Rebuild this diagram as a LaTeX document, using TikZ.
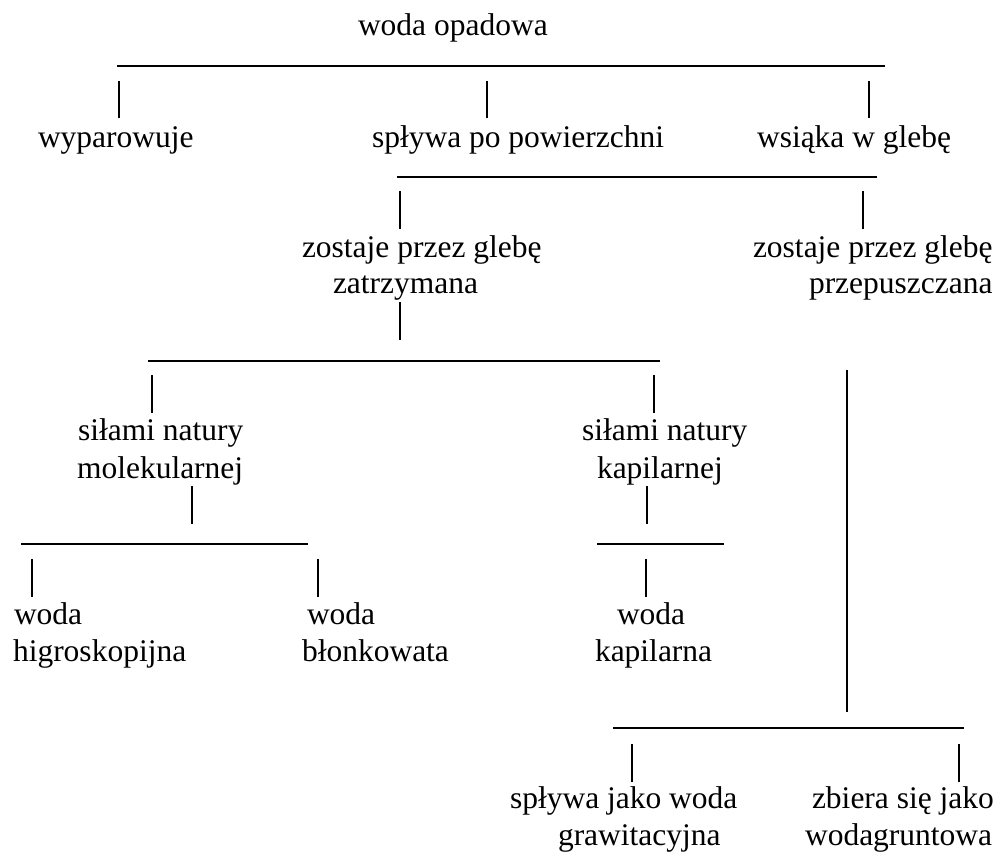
\documentclass[tikz,border=0pt]{standalone}
\usepackage{fontspec}
\setmainfont{Liberation Serif}
\begin{document}
\begin{tikzpicture}[x=1pt,y=-1pt,
  lbl/.style={anchor=base west,inner sep=0pt,outer sep=0pt,font=\fontsize{31.5}{36}\selectfont},
  hline/.style={line width=1.1pt},
  vbar/.style={line width=2.8pt},
  vlong/.style={line width=1.6pt}]
\useasboundingbox (0,0) rectangle (999,852);
% texts
\node[lbl] (t0) at (358,35) {woda opadowa};
\node[lbl] (t1) at (38,147) {wyparowuje};
\node[lbl] (t2) at (372,147) {spływa po powierzchni};
\node[lbl] (t3) at (757,147) {wsiąka w glebę};
\node[lbl] (t4a) at (302,257) {zostaje przez glebę};
\node[lbl] (t4b) at (333,293) {zatrzymana};
\node[lbl] (t5a) at (753,257) {zostaje przez glebę};
\node[lbl] (t5b) at (809,293) {przepuszczana};
\node[lbl] (t6a) at (78,440) {siłami natury};
\node[lbl] (t6b) at (77,478) {molekularnej};
\node[lbl] (t7a) at (582,440) {siłami natury};
\node[lbl] (t7b) at (597,478) {kapilarnej};
\node[lbl] (t8a) at (14,624) {woda};
\node[lbl] (t8b) at (13,661) {higroskopijna};
\node[lbl] (t9a) at (307,624) {woda};
\node[lbl] (t9b) at (302,661) {błonkowata};
\node[lbl] (t10a) at (617,624) {woda};
\node[lbl] (t10b) at (595,661) {kapilarna};
\node[lbl] (t11a) at (510,808) {spływa jako woda};
\node[lbl] (t11b) at (558,845) {grawitacyjna};
\node[lbl] (t12a) at (812,808) {zbiera się jako};
\node[lbl] (t12b) at (805,845) {wodagruntowa};
% horizontal lines
\draw[hline] (117,66) coordinate (h1a) -- (885,66) coordinate (h1b);
\draw[hline] (397,177) coordinate (h2a) -- (877,177) coordinate (h2b);
\draw[hline] (148,361) coordinate (h3a) -- (660,361) coordinate (h3b);
\draw[hline] (21,544) coordinate (h4a) -- (308,544) coordinate (h4b);
\draw[hline] (597,544) coordinate (h5a) -- (724,544) coordinate (h5b);
\draw[hline] (613,728) coordinate (h6a) -- (964,728) coordinate (h6b);
% vertical bars
\draw[vbar] (119,81) coordinate (b1a) -- (119,118) coordinate (b1b);
\draw[vbar] (487,81) coordinate (b2a) -- (487,118) coordinate (b2b);
\draw[vbar] (869,81) coordinate (b3a) -- (869,118) coordinate (b3b);
\draw[vbar] (400,191) coordinate (b4a) -- (400,229) coordinate (b4b);
\draw[vbar] (863,191) coordinate (b5a) -- (863,229) coordinate (b5b);
\draw[vbar] (400,302) coordinate (b6a) -- (400,340) coordinate (b6b);
\draw[vbar] (152,375) coordinate (b7a) -- (152,413) coordinate (b7b);
\draw[vbar] (654,375) coordinate (b8a) -- (654,413) coordinate (b8b);
\draw[vbar] (192,486) coordinate (b9a) -- (192,524) coordinate (b9b);
\draw[vbar] (647,486) coordinate (b10a) -- (647,524) coordinate (b10b);
\draw[vbar] (32,559) coordinate (b11a) -- (32,597) coordinate (b11b);
\draw[vbar] (318,559) coordinate (b12a) -- (318,597) coordinate (b12b);
\draw[vbar] (646,559) coordinate (b13a) -- (646,597) coordinate (b13b);
\draw[vbar] (632,744) coordinate (b14a) -- (632,782) coordinate (b14b);
\draw[vbar] (959,744) coordinate (b15a) -- (959,782) coordinate (b15b);
% long vertical line
\draw[vlong] (847,370) coordinate (va) -- (847,712) coordinate (vb);
\end{tikzpicture}
\end{document}
